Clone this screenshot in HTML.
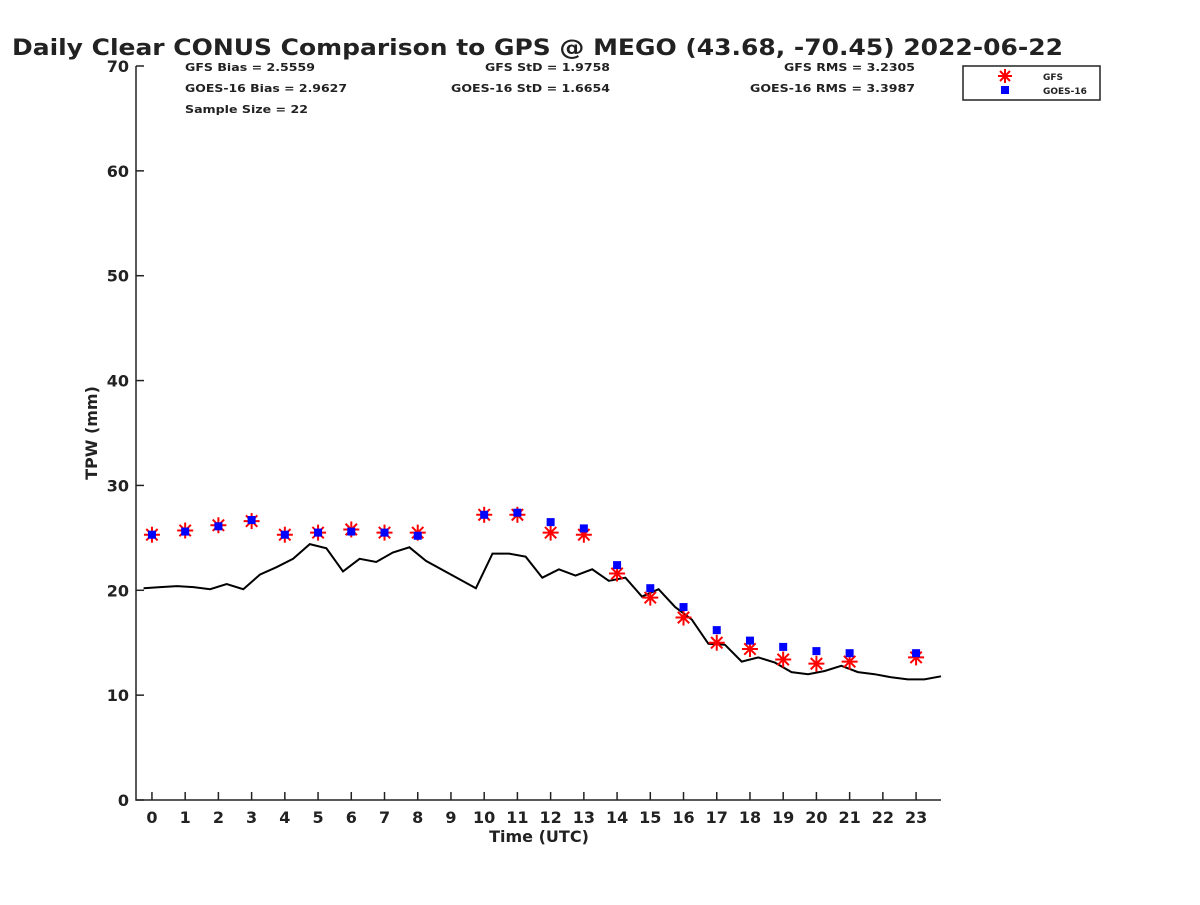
<!DOCTYPE html>
<html><head><meta charset="utf-8"><style>
body{margin:0;background:#fff;}
svg text{font-family:"DejaVu Sans","Liberation Sans",sans-serif;font-weight:bold;fill:#222;}
</style></head><body>
<svg id="chart" width="1200" height="900">
<text x="12" y="55" font-size="22" fill="#000" textLength="1051" lengthAdjust="spacingAndGlyphs">Daily Clear CONUS Comparison to GPS @ MEGO (43.68, -70.45) 2022-06-22</text>
<g font-size="11">
<text x="185" y="71" textLength="130" lengthAdjust="spacingAndGlyphs">GFS Bias = 2.5559</text>
<text x="185" y="92" textLength="162" lengthAdjust="spacingAndGlyphs">GOES-16 Bias = 2.9627</text>
<text x="185" y="113" textLength="123" lengthAdjust="spacingAndGlyphs">Sample Size = 22</text>
<text x="485" y="71" textLength="125" lengthAdjust="spacingAndGlyphs">GFS StD = 1.9758</text>
<text x="451" y="92" textLength="159" lengthAdjust="spacingAndGlyphs">GOES-16 StD = 1.6654</text>
<text x="784" y="71" textLength="131" lengthAdjust="spacingAndGlyphs">GFS RMS = 3.2305</text>
<text x="750" y="92" textLength="165" lengthAdjust="spacingAndGlyphs">GOES-16 RMS = 3.3987</text>
</g>
<g id="axes"></g>
<g id="plot"></g>
<g>
<rect x="963" y="66" width="137" height="34" fill="#fff" stroke="#222" stroke-width="1.5"/>
<g stroke="#f00" stroke-width="2"><line x1="1005" y1="69" x2="1005" y2="83"/><line x1="998" y1="76" x2="1012" y2="76"/><line x1="1000" y1="71" x2="1010" y2="81"/><line x1="1000" y1="81" x2="1010" y2="71"/></g>
<rect x="1001" y="86" width="8" height="8" fill="#00f"/>
<text x="1043" y="80" font-size="9">GFS</text>
<text x="1043" y="94" font-size="9">GOES-16</text>
</g>
</svg>
<script>
const hours=[0,1,2,3,4,5,6,7,8,10,11,12,13,14,15,16,17,18,19,20,21,23];
const gfsValues=[25.3,25.7,26.2,26.6,25.3,25.5,25.8,25.5,25.5,27.2,27.2,25.5,25.3,21.6,19.3,17.4,15.0,14.4,13.4,13.0,13.2,13.6];
const goesValues=[25.3,25.6,26.1,26.7,25.3,25.5,25.6,25.5,25.2,27.2,27.4,26.5,25.9,22.4,20.2,18.4,16.2,15.2,14.6,14.2,14.0,14.0];
const gpsTimes=[-0.25,0.25,0.75,1.25,1.75,2.25,2.75,3.25,3.75,4.25,4.75,5.25,5.75,6.25,6.75,7.25,7.75,8.25,9.75,10.25,10.75,11.25,11.75,12.25,12.75,13.25,13.75,14.25,14.75,15.25,15.75,16.25,16.75,17.25,17.75,18.25,18.75,19.25,19.75,20.25,20.75,21.25,21.75,22.25,22.75,23.25,23.75];
const gpsValues=[20.2,20.3,20.4,20.3,20.1,20.6,20.1,21.5,22.2,23.0,24.4,24.0,21.8,23.0,22.7,23.6,24.1,22.8,20.2,23.5,23.5,23.2,21.2,22.0,21.4,22.0,20.9,21.2,19.4,20.1,18.4,17.2,14.9,14.8,13.2,13.6,13.1,12.2,12.0,12.3,12.8,12.2,12.0,11.7,11.5,11.5,11.8];
const xTicks=[0,1,2,3,4,5,6,7,8,9,10,11,12,13,14,15,16,17,18,19,20,21,22,23];
const yTicks=[0,10,20,30,40,50,60,70];
const X0=136,X1=941,Y0=800,Y1=66,xmin=-0.48,xmax=23.75,ymin=0,ymax=70;
const sx=v=>X0+(v-xmin)/(xmax-xmin)*(X1-X0);
const sy=v=>Y0-(v-ymin)/(ymax-ymin)*(Y0-Y1);
const NS="http://www.w3.org/2000/svg";
function mk(tag,attrs,parent){const e=document.createElementNS(NS,tag);for(const k in attrs)e.setAttribute(k,attrs[k]);parent.appendChild(e);return e;}
const ax=document.getElementById('axes'),pl=document.getElementById('plot');
let a=mk('path',{d:`M${X0},${Y1}V${Y0}H${X1}`,fill:'none',stroke:'#222','stroke-width':1.5},ax);


yTicks.forEach(t=>{const y=sy(t);
mk('line',{x1:X0,x2:X0+8,y1:y,y2:y,stroke:'#222','stroke-width':1.5},ax);
const tx=mk('text',{x:X0-7,y:y+6,'font-size':16,'text-anchor':'end'},ax);tx.textContent=t;

});
xTicks.forEach(t=>{const x=sx(t);
mk('line',{x1:x,x2:x,y1:Y0,y2:Y0-8,stroke:'#222','stroke-width':1.5},ax);
const tx=mk('text',{x:x,y:Y0+23,'font-size':16,'text-anchor':'middle'},ax);tx.textContent=t;

});
let xt=mk('text',{x:539,y:842,'font-size':16,'text-anchor':'middle'},ax);xt.textContent='Time (UTC)';


let yt=mk('text',{x:0,y:0,'font-size':16,'text-anchor':'middle',transform:`translate(97,433) rotate(-90)`},ax);yt.textContent='TPW (mm)';


let d='';gpsTimes.forEach((t,i)=>{d+=(i?'L':'M')+sx(t).toFixed(1)+','+sy(gpsValues[i]).toFixed(1);});
let ln=mk('path',{d:d,fill:'none',stroke:'#000','stroke-width':2},pl);


hours.forEach((h,i)=>{const x=sx(h),y=sy(gfsValues[i]);
const g=mk('g',{stroke:'#f00','stroke-width':2},pl);


mk('line',{x1:x,x2:x,y1:y-8,y2:y+8},g);mk('line',{x1:x-8,x2:x+8,y1:y,y2:y},g);
mk('line',{x1:x-5.7,x2:x+5.7,y1:y-5.7,y2:y+5.7},g);mk('line',{x1:x-5.7,x2:x+5.7,y1:y+5.7,y2:y-5.7},g);});
hours.forEach((h,i)=>{const x=sx(h),y=sy(goesValues[i]);
const r=mk('rect',{x:x-4,y:y-4,width:8,height:8,fill:'#00f'},pl);

});
</script>
</body></html>
